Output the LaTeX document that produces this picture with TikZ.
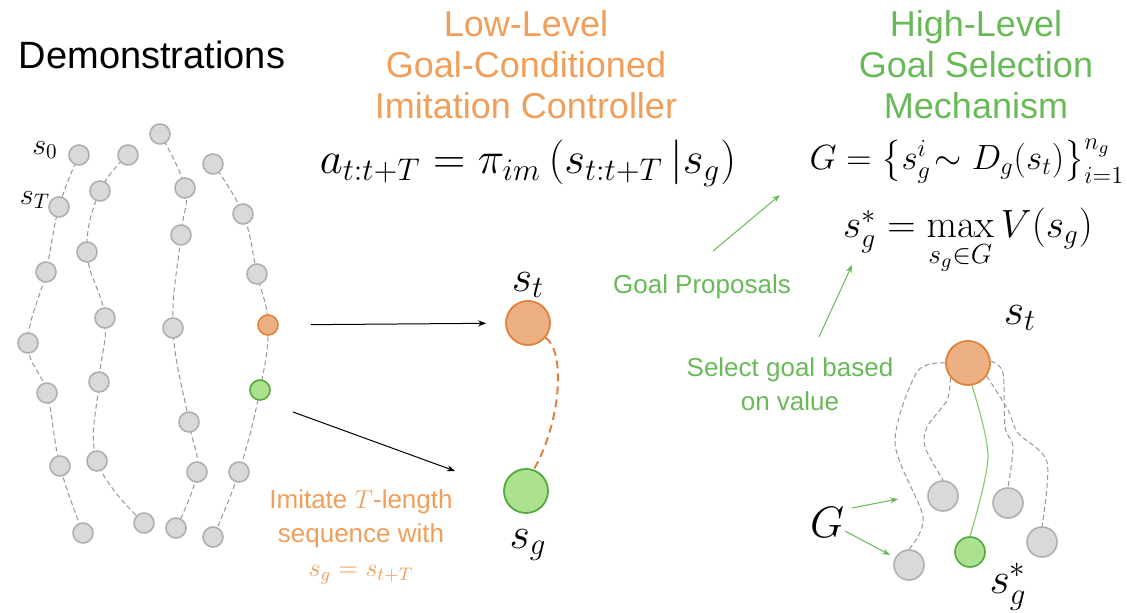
\RequirePackage{fix-cm}
\documentclass[tikz,border=0pt]{standalone}
\usepackage{amsmath}
\usepackage[no-math]{fontspec}
\setmainfont{Liberation Sans}
\usetikzlibrary{arrows.meta,backgrounds}
\definecolor{lowtext}{RGB}{240,158,90}
\definecolor{hightext}{RGB}{104,185,88}
\definecolor{nodegray}{RGB}{217,217,217}
\definecolor{rimgray}{RGB}{176,176,176}
\definecolor{stfill}{RGB}{236,176,130}
\definecolor{strim}{RGB}{226,128,62}
\definecolor{sgfill}{RGB}{172,226,143}
\definecolor{sgrim}{RGB}{84,168,60}
\definecolor{pathgray}{RGB}{150,150,150}
\definecolor{bestline}{RGB}{140,205,110}

\begin{document}
\begin{tikzpicture}[x=0.5pt, y=-0.5pt,
    state/.style={circle, draw=rimgray, fill=nodegray, line width=0.8pt,
                  minimum size=10pt, inner sep=0pt},
    cur/.style={draw=strim, fill=stfill},
    goal/.style={draw=sgrim, fill=sgfill},
    big/.style={minimum size=22pt, line width=0.9pt},
    mid/.style={minimum size=15pt},
    traj/.style={draw=pathgray, dash pattern=on 2.5pt off 1.5pt, line width=0.5pt},
    title/.style={font=\fontsize{18}{20.5}\selectfont, align=center,
                  anchor=north, inner sep=0pt},
    note/.style={font=\fontsize{13}{17}\selectfont, align=center, inner sep=0pt},
    lbl/.style={font=\fontsize{22}{26}\selectfont, inner sep=0pt},
    pointer/.style={-{Stealth[length=4pt,width=3pt]}, line width=0.5pt}]
\useasboundingbox (0,0) rectangle (1127,613);

% headings
\node[font=\fontsize{19}{22}\selectfont, inner sep=0pt] (demotitle) at (152,55) {Demonstrations};
\node[title, text=lowtext] (lowtitle) at (526,10) {Low-Level\\Goal-Conditioned\\Imitation Controller};
\node[title, text=hightext] (hightitle) at (976,10) {High-Level\\Goal Selection\\Mechanism};

% equations
\node[font=\fontsize{22.4}{26}\selectfont, inner sep=0pt] (imeq) at (528,163)
  {$a_{t:t+T} = \pi_{im}\,(s_{t:t+T}\,|s_g)$};
\node[font=\fontsize{17.5}{21}\selectfont, inner sep=0pt] (propeq) at (967,161)
  {$G = \bigl\{ s_g^i\!\sim D_g(s_t)\bigr\}_{i=1}^{n_g}$};
\node[font=\fontsize{19.7}{23}\selectfont, inner sep=0pt] (selecteq) at (968,242)
  {$s_g^* = \displaystyle\max_{s_g\in G} V(s_g)$};

% demonstrations
\foreach \name/\px/\py in {a0/79/155, a1/59/207, a2/46/272, a3/28/343, a4/47/393,
    a5/60/466, a6/83/533, b0/128/155, b1/100/191, b2/87/252, b3/105/318,
    b4/99/382, b5/97/461, b6/144/523, c0/160/134, c1/185/188, c2/181/235,
    c3/173/328, c4/189/422, c5/197/472, c6/176/528, d0/213/164, d1/243/214,
    d2/257/274, d3/239/472, d4/213/537}
  \node[state] (\name) at (\px,\py) {};
\node[state, cur] (dst) at (268,325) {};
\node[state, goal] (dsg) at (260,390) {};
\node[font=\fontsize{15}{18}\selectfont, inner sep=0pt] (s0lbl) at (45,150) {$s_0$};
\node[font=\fontsize{15}{18}\selectfont, inner sep=0pt] (sTlbl) at (35,200) {$s_T$};

\begin{scope}[on background layer]
\draw[traj] plot[smooth, tension=0.7] coordinates {(a0) (a1) (a2) (a3) (a4) (a5) (a6)};
\draw[traj] plot[smooth, tension=0.7] coordinates {(b0) (b1) (b2) (b3) (b4) (b5) (b6)};
\draw[traj] plot[smooth, tension=0.7] coordinates {(c0) (c1) (c2) (c3) (c4) (c5) (c6)};
\draw[traj] plot[smooth, tension=0.7] coordinates {(d0) (d1) (d2) (dst) (dsg) (d3) (d4)};
\end{scope}

% low-level controller
\node[state, cur, big] (bst) at (528,323) {};
\node[state, goal, big] (bsg) at (526,491) {};
\node[lbl] (bstlbl) at (528,285) {$s_t$};
\node[lbl] (bsglbl) at (528,545) {$s_g$};
\draw[draw=strim, line width=1pt, dash pattern=on 4pt off 2.5pt]
  (bst.-40) .. controls (565,350) and (562,420) .. (bsg.70);
\draw[pointer, shorten <=16pt, shorten >=9.5pt] (dst) -- (bst);
\coordinate (sgfrom) at (293,412);
\coordinate (sgto) at (455,471);
\draw[pointer] (sgfrom) -- (sgto);
\node[note, text=lowtext] (imitnote) at (361,537)
  {Imitate $T$-length\\sequence with\\$s_g = s_{t+T}$};

% high-level selection
\node[note, text=hightext] (propnote) at (702,287) {Goal Proposals};
\coordinate (propfrom) at (713,251);
\coordinate (propto) at (780,195);
\draw[pointer, hightext] (propfrom) -- (propto);
\node[note, text=hightext] (selnote) at (790,384) {Select goal based\\on value};
\coordinate (selfrom) at (819,337);
\coordinate (selto) at (852,265);
\draw[pointer, hightext] (selfrom) -- (selto);

\node[state, cur, big] (top) at (968,363) {};
\node[state, mid] (g1) at (909,565) {};
\node[state, mid] (g2) at (943,496) {};
\node[state, mid] (g3) at (1008,503) {};
\node[state, mid] (g4) at (1042,542) {};
\node[state, goal, mid] (best) at (970,552) {};
\node[lbl] (toplbl) at (1020,318) {$s_t$};
\node[lbl] (bestlbl) at (1008,587) {$s_g^*$};
\node[lbl] (Glbl) at (827,522) {$G$};

\begin{scope}[on background layer]
\draw[traj] plot[smooth] coordinates {(top.180) (917,372) (895,443) (923,517) (g1.north)};
\draw[traj] plot[smooth] coordinates {(top.220) (947,400) (927,427) (925,447) (g2.north)};
\draw[traj] plot[smooth] coordinates {(top.5) (1003,373) (1005,427) (1013,447) (g3.north)};
\draw[traj] plot[smooth] coordinates {(top.-35) (1008,410) (1018,433) (1047,462) (g4.north)};
\draw[bestline, line width=0.6pt] plot[smooth] coordinates {(top.-80) (988,457) (best.north)};
\end{scope}

\coordinate (Gfrom1) at (852,508);
\coordinate (Gto1) at (898,499);
\coordinate (Gfrom2) at (845,531);
\coordinate (Gto2) at (890,555);
\draw[pointer, hightext] (Gfrom1) -- (Gto1);
\draw[pointer, hightext] (Gfrom2) -- (Gto2);
\end{tikzpicture}
\end{document}
